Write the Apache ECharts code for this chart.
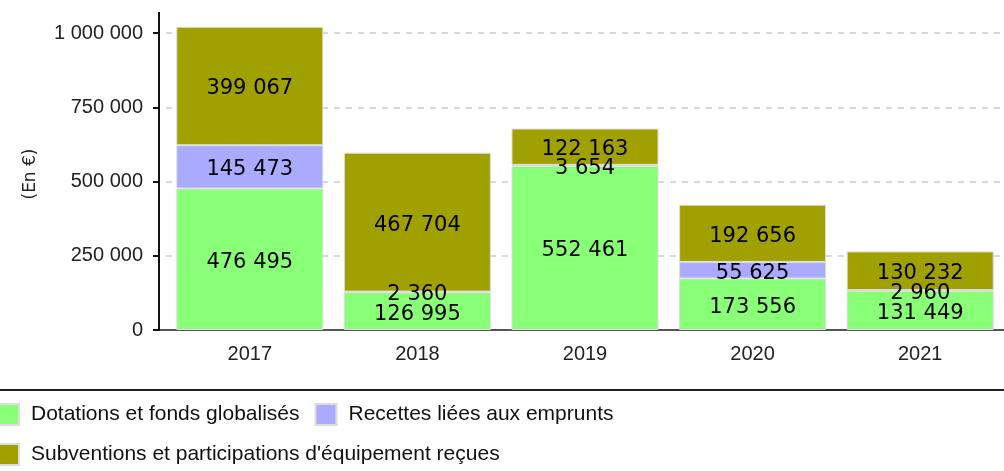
<!DOCTYPE html>
<html>
<head>
<meta charset="utf-8">
<script src="https://cdn.jsdelivr.net/npm/echarts@6/dist/echarts.min.js"></script>
<style>
    html, body { margin: 0; padding: 0; background: #fff; }
    #chart { width: 1004px; height: 471px; }
</style>
</head>
<body>
<div id="chart"></div>
<script>
// Données
const annees = ["2017", "2018", "2019", "2020", "2021"];
const dotations = [476495, 126995, 552461, 173556, 131449];
const emprunts = [145473, 2360, 3654, 55625, 2960];
const subventions = [399067, 467704, 122163, 192656, 130232];
const yTicks = [0, 250000, 500000, 750000, 1000000];

const nomsSeries = [
    "Dotations et fonds globalisés",
    "Recettes liées aux emprunts",
    "Subventions et participations d'équipement reçues"
];

document.addEventListener("DOMContentLoaded", () => {
    const chart = echarts.init(document.getElementById("chart"));

    // espace comme séparateur de milliers
    function fmt(v) {
        return String(v).replace(/\B(?=(\d{3})+(?!\d))/g, " ");
    }

    function serie(nom, data, couleur) {
        return {
            name: nom,
            type: "bar",
            stack: "total",
            data: data,
            barWidth: 147,
            clip: false, // la barre 2017 dépasse 1 000 000
            itemStyle: { color: couleur, borderColor: "#dddddd", borderWidth: 1 },
            label: {
                show: true,
                position: "inside",
                offset: [0, 3],
                color: "#000",
                fontFamily: "DejaVu Sans",
                fontSize: 21,
                formatter: p => fmt(p.value)
            }
        };
    }

    chart.setOption({
        animation: false,
        backgroundColor: "#fff",
        grid: { left: 166, top: 33, width: 847, height: 297 },
        xAxis: {
            type: "category",
            data: annees,
            axisLine: { lineStyle: { color: "#555", width: 2 } },
            axisTick: { show: false },
            axisLabel: { color: "#222", fontFamily: "Liberation Sans", fontSize: 20, margin: 14 }
        },
        yAxis: {
            type: "value",
            min: yTicks[0],
            max: yTicks[yTicks.length - 1],
            interval: 250000,
            offset: 7,
            name: "(En €)",
            nameLocation: "middle",
            nameGap: 120,
            nameTextStyle: { color: "#222", fontFamily: "DejaVu Sans", fontSize: 17, padding: [0, 0, 0, 15] },
            axisLine: { show: true, lineStyle: { color: "#111", width: 2 } },
            axisTick: { show: true, length: 6, lineStyle: { color: "#111", width: 2 } },
            axisLabel: { color: "#222", fontFamily: "Liberation Sans", fontSize: 20, margin: 16, formatter: v => fmt(v) },
            splitLine: { show: true, lineStyle: { color: "#cccccc", type: [6, 6], width: 1.5 } }
        },
        legend: {
            left: -3,
            top: 402,
            width: 640,
            padding: 0,
            icon: "rect",
            itemWidth: 21,
            itemHeight: 21,
            itemGap: 15,
            data: nomsSeries,
            textStyle: { color: "#111", fontFamily: "Liberation Sans", fontSize: 21, lineHeight: 25, padding: [0, 0, 0, 7] }
        },
        graphic: [
            // prolongement de l'axe Y au-dessus de 1 000 000
            { type: "line", shape: { x1: 159, y1: 12, x2: 159, y2: 34 }, style: { stroke: "#111", lineWidth: 2 } },
            // prolongement de l'axe X vers la gauche
            { type: "line", shape: { x1: 153, y1: 330, x2: 167, y2: 330 }, style: { stroke: "#555", lineWidth: 2 } },
            // séparateur au-dessus de la légende
            { type: "line", shape: { x1: 0, y1: 390, x2: 1004, y2: 390 }, style: { stroke: "#222", lineWidth: 2 } }
        ],
        series: [
            serie(nomsSeries[0], dotations, "#88ff77"),
            serie(nomsSeries[1], emprunts, "#aaaaff"),
            serie(nomsSeries[2], subventions, "#a0a000")
        ]
    });

    window.addEventListener("resize", () => chart.resize());
});
</script>
</body>
</html>
